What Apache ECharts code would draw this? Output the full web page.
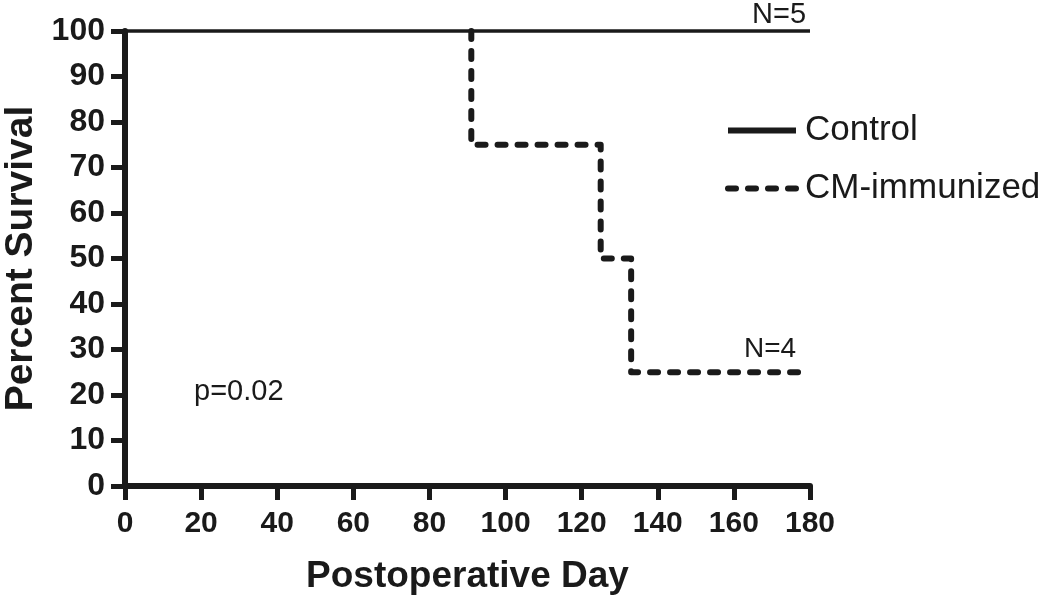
<!DOCTYPE html>
<html>
<head>
<meta charset="utf-8">
<script src="https://cdn.jsdelivr.net/npm/echarts@6/dist/echarts.min.js"></script>
<style>html,body{margin:0;padding:0;background:#fff}#c{width:1050px;height:598px}</style>
</head>
<body>
<div id="c"></div>
<script>
// Data
const seriesNames = ['Control', 'CM-immunized'];
const controlDays = [0, 180];
const controlSurvival = [100, 100];
// CM-immunized drawn from the first death (before that it coincides with Control at 100%)
const cmDays = [91, 91, 125, 133, 177];
const cmSurvival = [100, 75, 50, 25, 25];
const xTicks = [0, 20, 40, 60, 80, 100, 120, 140, 160, 180];
const yTicks = [0, 10, 20, 30, 40, 50, 60, 70, 80, 90, 100];
const annotations = ['N=5', 'N=4', 'p=0.02'];

const chart = echarts.init(document.getElementById('c'), null, {renderer: 'canvas'});
const ink = '#1a1a1a';
const sans = '"Liberation Sans", Arial, sans-serif';
const narrow = '"Liberation Sans Narrow", "Arial Narrow", "Liberation Sans", Arial, sans-serif';
const cmDash = {color: ink, width: 6, type: [8, 12], cap: 'round', join: 'round'};

chart.setOption({
  backgroundColor: '#fff',
  animation: false,
  grid: {left: 125, right: 240, top: 31, bottom: 112, containLabel: false, outerBoundsMode: 'none'},
  xAxis: {
    type: 'value', min: xTicks[0], max: xTicks[xTicks.length - 1], interval: 20,
    name: 'Postoperative Day', nameLocation: 'middle', nameGap: 72,
    nameTextStyle: {fontFamily: sans, fontWeight: 'bold', fontSize: 37, color: ink},
    axisLine: {show: true, onZero: false, lineStyle: {color: ink, width: 6}},
    axisTick: {show: true, length: 14, lineStyle: {color: ink, width: 5}},
    axisLabel: {margin: 23, fontFamily: narrow, fontWeight: 'bold', fontSize: 30, color: ink},
    splitLine: {show: false}
  },
  yAxis: {
    type: 'value', min: yTicks[0], max: yTicks[yTicks.length - 1], interval: 10,
    name: 'Percent Survival', nameLocation: 'middle', nameGap: 79,
    nameTextStyle: {fontFamily: sans, fontWeight: 'bold', fontSize: 39, color: ink},
    axisLine: {show: true, onZero: false, lineStyle: {color: ink, width: 6}},
    axisTick: {show: true, length: 14, lineStyle: {color: ink, width: 5}},
    axisLabel: {margin: 20, fontFamily: sans, fontWeight: 'bold', fontSize: 32, color: ink},
    splitLine: {show: false}
  },
  legend: {
    orient: 'vertical', left: 725, top: 113, padding: 0, itemWidth: 68, itemHeight: 34, itemGap: 23,
    itemStyle: {opacity: 0},
    data: [
      {name: seriesNames[0], itemStyle: {opacity: 0}, lineStyle: {color: ink, width: 6, type: 'solid'}},
      {name: seriesNames[1], itemStyle: {opacity: 0}, lineStyle: cmDash}
    ],
    textStyle: {fontFamily: sans, fontSize: 35, color: ink, padding: [0, 0, 0, 4]}
  },
  series: [
    {
      name: seriesNames[0], type: 'line', symbol: 'none', clip: false, z: 3,
      data: controlDays.map((d, i) => [d, controlSurvival[i]]),
      lineStyle: {color: ink, width: 3.5},
      itemStyle: {color: ink},
      emphasis: {disabled: true}
    },
    {
      name: seriesNames[1], type: 'line', symbol: 'none', clip: false, step: 'end', z: 2,
      data: cmDays.map((d, i) => [d, cmSurvival[i]]),
      lineStyle: cmDash,
      itemStyle: {color: ink},
      emphasis: {disabled: true}
    }
  ],
  graphic: [
    {type: 'text', left: 752, top: 0, style: {text: annotations[0], font: '29px "Liberation Sans", Arial, sans-serif', fill: ink}},
    {type: 'text', left: 744, top: 335, style: {text: annotations[1], font: '28px "Liberation Sans", Arial, sans-serif', fill: ink}},
    {type: 'text', left: 194, top: 377, style: {text: annotations[2], font: '29px "Liberation Sans", Arial, sans-serif', fill: ink}}
  ]
});
</script>
</body>
</html>
